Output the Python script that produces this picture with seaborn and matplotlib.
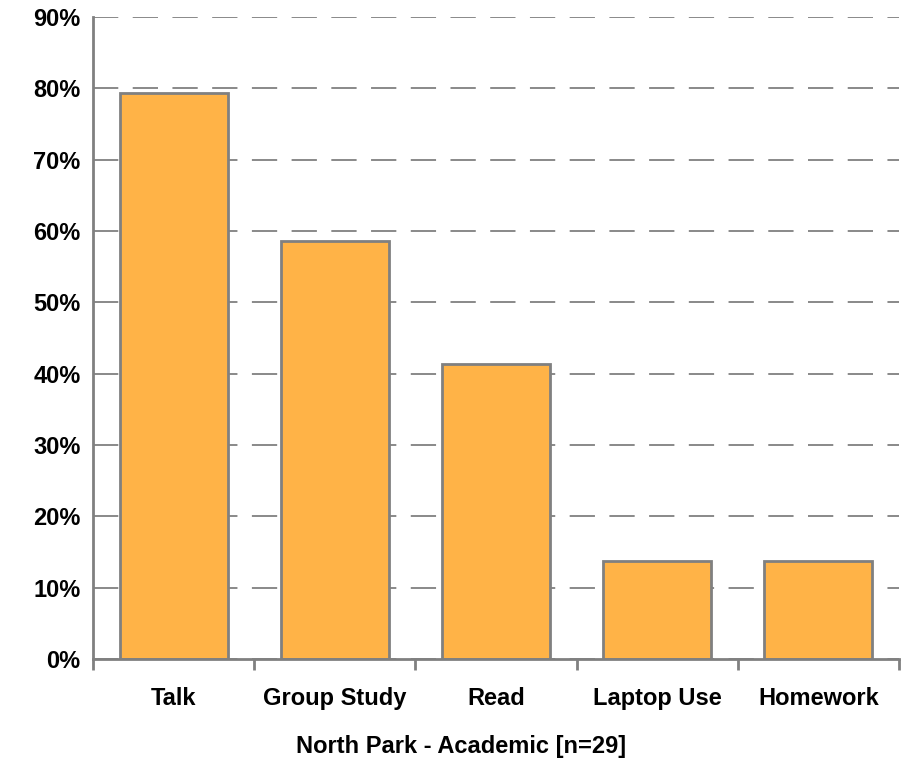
import numpy as np
import pandas as pd
import matplotlib
matplotlib.use("Agg")
import matplotlib.pyplot as plt
import seaborn as sns
from matplotlib.ticker import PercentFormatter, FixedLocator

# 資料
categories = ["Talk", "Group Study", "Read", "Laptop Use", "Homework"]
shares = [79.3, 58.6, 41.4, 13.8, 13.8]
x_label = "North Park - Academic [n=29]"

BAR_COLOR = "#FFB347"
EDGE_GRAY = "#808080"
FONT_SIZE = 17

sns.set_theme(style="white")
plt.rcParams['font.family'] = ['Liberation Sans', 'DejaVu Sans']
plt.rcParams['font.weight'] = 'bold'
plt.rcParams['text.color'] = 'black'
plt.rcParams['xtick.color'] = 'black'
plt.rcParams['ytick.color'] = 'black'

df = pd.DataFrame({"Activity": categories, "Share": shares})

fig = plt.figure(figsize=(9.03, 7.58), dpi=100)
ax = fig.add_axes([0.103, 0.1306, 0.8926, 0.847])

sns.barplot(data=df, x="Activity", y="Share", color=BAR_COLOR, saturation=1,
            edgecolor=EDGE_GRAY, linewidth=2, width=0.67, ax=ax)

ax.set_xlim(-0.5, len(categories) - 0.5)
ax.set_ylim(0, 90)
ax.set_yticks(np.arange(0, 91, 10))
ax.yaxis.set_major_formatter(PercentFormatter(decimals=0))
ax.grid(axis='y', color=EDGE_GRAY, linestyle=(0, (14, 8)), linewidth=1.3)
ax.set_axisbelow(True)

# 類別邊界刻度
ax.xaxis.set_minor_locator(FixedLocator(np.arange(-0.5, len(categories), 1.0)))
ax.tick_params(axis='x', which='major', length=0, pad=20, labelsize=FONT_SIZE, labelcolor='black')
ax.tick_params(axis='x', which='minor', length=8, width=2, color=EDGE_GRAY, direction='out', bottom=True)
ax.tick_params(axis='y', length=6, width=2, color=EDGE_GRAY, direction='out',
               labelsize=FONT_SIZE, labelcolor='black', pad=3)

for lab in ax.get_xticklabels() + ax.get_yticklabels():
    lab.set_fontweight('bold')

for side in ['top', 'right']:
    ax.spines[side].set_visible(False)
for side in ['left', 'bottom']:
    ax.spines[side].set_color(EDGE_GRAY)
    ax.spines[side].set_linewidth(2)

ax.set_ylabel("")
ax.set_xlabel(x_label, fontsize=FONT_SIZE, fontweight='bold', color='black', labelpad=18)
ax.xaxis.label.set_x(0.457)  # 原圖標題略偏左

plt.savefig("out.png", dpi=100)
plt.close()
